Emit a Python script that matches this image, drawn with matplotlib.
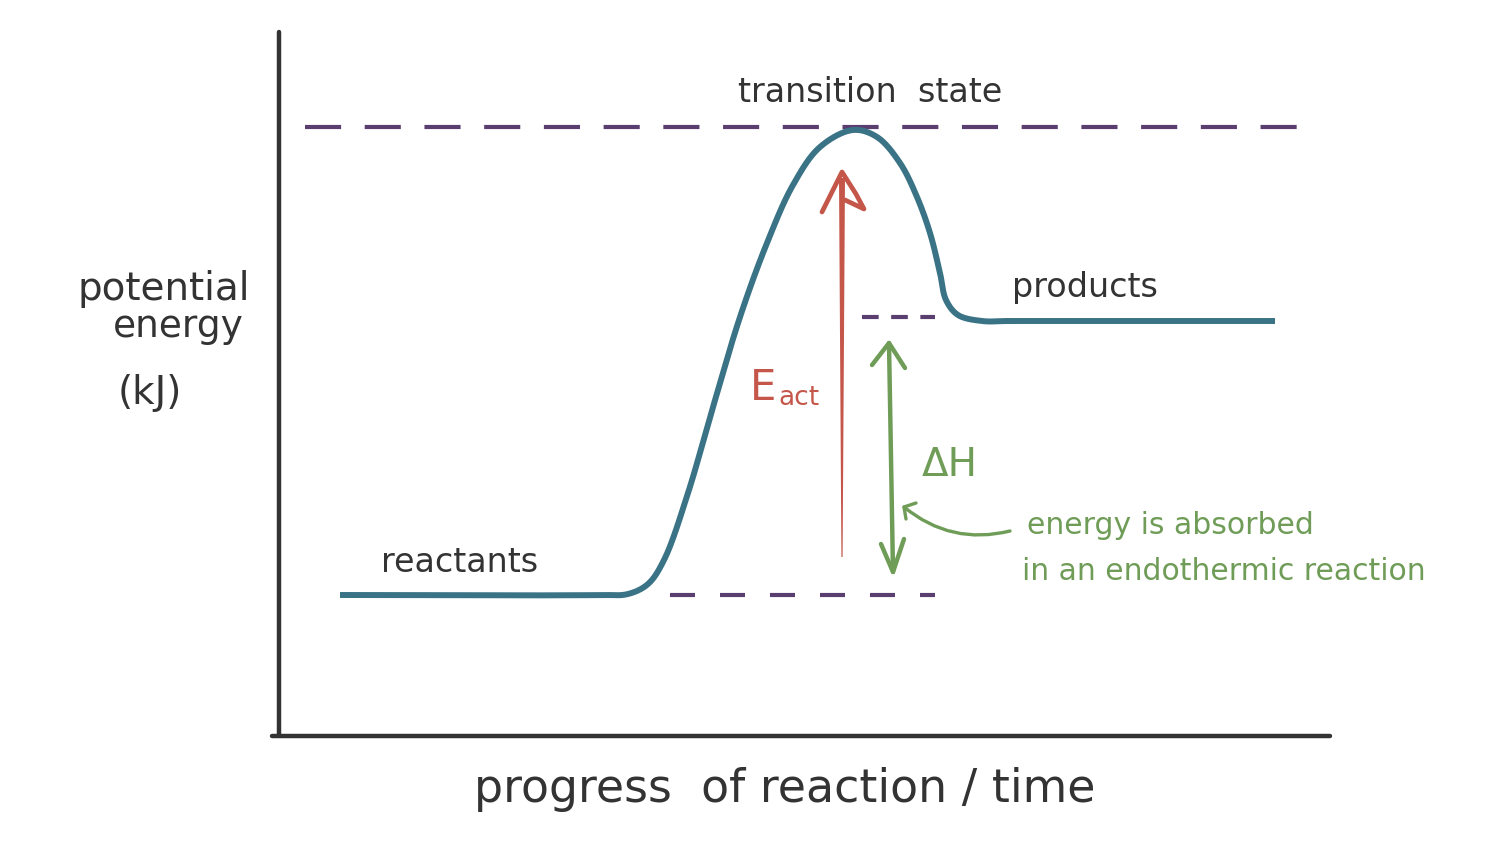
import numpy as np
import matplotlib.pyplot as plt
from matplotlib.patches import FancyArrowPatch, Polygon

plt.rcParams["lines.scale_dashes"] = False
plt.rcParams["font.family"] = ["DejaVu Sans"]

TEAL = "#3b7386"
RED = "#c4574a"
GREEN = "#6f9c57"
PURPLE = "#5b3e70"
INK = "#333333"

# energy levels (figure pixel units, y grows downward)
transition_level = 127
product_level = 321
reactant_level = 595

# reaction path, left to right
path_x = [340, 600, 628, 648, 664, 688, 713, 740, 767, 793, 820, 853, 877,
          900, 917, 930, 940, 946, 958, 982, 1010, 1275]
path_y = [595, 595, 594, 584, 560, 493, 407, 317, 243, 185, 147, 130, 137,
          163, 197, 233, 273, 300, 315, 321, 321, 321]

# arrows
eact_x = [842, 842]
eact_y = [557, 172]
dh_x = [889, 893]
dh_y = [343, 572]


def smooth(xs, ys, n=30, alpha=0.5):
    # centripetal catmull-rom through the read points, only for a smooth stroke
    p = np.column_stack([xs, ys]).astype(float)
    p = np.vstack([2 * p[0] - p[1], p, 2 * p[-1] - p[-2]])
    out = []
    for i in range(1, len(p) - 2):
        p0, p1, p2, p3 = p[i - 1], p[i], p[i + 1], p[i + 2]
        t0 = 0.0
        t1 = t0 + np.linalg.norm(p1 - p0) ** alpha
        t2 = t1 + np.linalg.norm(p2 - p1) ** alpha
        t3 = t2 + np.linalg.norm(p3 - p2) ** alpha
        t = np.linspace(t1, t2, n, endpoint=False)[:, None]
        a1 = (t1 - t) / (t1 - t0) * p0 + (t - t0) / (t1 - t0) * p1
        a2 = (t2 - t) / (t2 - t1) * p1 + (t - t1) / (t2 - t1) * p2
        a3 = (t3 - t) / (t3 - t2) * p2 + (t - t2) / (t3 - t2) * p3
        b1 = (t2 - t) / (t2 - t0) * a1 + (t - t0) / (t2 - t0) * a2
        b2 = (t3 - t) / (t3 - t1) * a2 + (t - t1) / (t3 - t1) * a3
        out.append((t2 - t) / (t2 - t1) * b1 + (t - t1) / (t2 - t1) * b2)
    out.append(p[-2][None, :])
    out = np.vstack(out)
    return out[:, 0], out[:, 1]


fig = plt.figure(figsize=(15.12, 8.44), dpi=100)
ax = fig.add_axes([0, 0, 1, 1])
ax.set_xlim(0, 1512)
ax.set_ylim(844, 0)
ax.axis("off")

# hand drawn axes
ax.plot([279, 279], [32, 735], color=INK, lw=3.2, solid_capstyle="round")
ax.plot([272, 1330], [736, 736], color=INK, lw=3.2, solid_capstyle="round")

# dashed guide lines
ax.plot([305, 1308], [transition_level, transition_level], color=PURPLE,
        lw=3, dashes=(26, 17))
ax.plot([670, 935], [reactant_level, reactant_level], color=PURPLE,
        lw=3, dashes=(18, 18))
ax.plot([862, 935], [product_level - 4, product_level - 4], color=PURPLE,
        lw=3, dashes=(12, 9))

# reaction path
sx, sy = smooth(path_x, path_y)
ax.plot(sx, sy, color=TEAL, lw=4.3, solid_capstyle="butt",
        solid_joinstyle="round")

# activation energy arrow: tapered shaft + open head
shaft = Polygon([(eact_x[0] - 0.6, eact_y[0]), (eact_x[0] + 0.6, eact_y[0]),
                 (eact_x[1] + 3, eact_y[1] + 6), (eact_x[1] - 3, eact_y[1] + 6)],
                closed=True, color=RED, lw=0)
ax.add_patch(shaft)
ax.plot([eact_x[1] - 20, eact_x[1], eact_x[1] + 14, eact_x[1] + 22, eact_x[1] + 3],
        [eact_y[1] + 40, eact_y[1], eact_y[1] + 22, eact_y[1] + 37, eact_y[1] + 28],
        color=RED, lw=3.4, solid_capstyle="round", solid_joinstyle="round")

# enthalpy arrow (double headed)
ax.plot(dh_x, dh_y, color=GREEN, lw=3.2, solid_capstyle="round")
ax.plot([dh_x[0] - 17, dh_x[0], dh_x[0] + 16], [dh_y[0] + 22, dh_y[0], dh_y[0] + 25],
        color=GREEN, lw=3.2, solid_capstyle="round", solid_joinstyle="round")
ax.plot([dh_x[1] - 12, dh_x[1], dh_x[1] + 11], [dh_y[1] - 28, dh_y[1], dh_y[1] - 33],
        color=GREEN, lw=3.2, solid_capstyle="round", solid_joinstyle="round")

# pointer to the enthalpy arrow
ax.add_patch(FancyArrowPatch((1010, 531), (904, 507),
                             connectionstyle="arc3,rad=-0.25",
                             arrowstyle="-", color=GREEN, lw=2.4,
                             shrinkA=0, shrinkB=0))
ax.plot([916, 904, 906], [503, 507, 519], color=GREEN, lw=2.4,
        solid_capstyle="round", solid_joinstyle="round")

# labels
ax.text(870, 92, "transition  state", color=INK, fontsize=24,
        ha="center", va="center")
ax.text(1085, 287, "products", color=INK, fontsize=24, ha="center", va="center")
ax.text(460, 563, "reactants", color=INK, fontsize=24, ha="center", va="center")
ax.text(164, 289, "potential", color=INK, fontsize=28, ha="center", va="center")
ax.text(178, 327, "energy", color=INK, fontsize=27, ha="center", va="center")
ax.text(150, 393, "(kJ)", color=INK, fontsize=28, ha="center", va="center")
ax.text(750, 388, "E", color=RED, fontsize=30, ha="left", va="center")
ax.text(778, 398, "act", color=RED, fontsize=19, ha="left", va="center")
ax.text(950, 465, "ΔH", color=GREEN, fontsize=28, ha="center", va="center")
ax.text(1027, 525, "energy is absorbed", color=GREEN, fontsize=21.5,
        ha="left", va="center")
ax.text(1022, 571, "in an endothermic reaction", color=GREEN, fontsize=21.5,
        ha="left", va="center")
ax.text(785, 790, "progress  of reaction / time", color=INK, fontsize=33,
        ha="center", va="center")

fig.savefig("out.png", dpi=100, facecolor="white")
